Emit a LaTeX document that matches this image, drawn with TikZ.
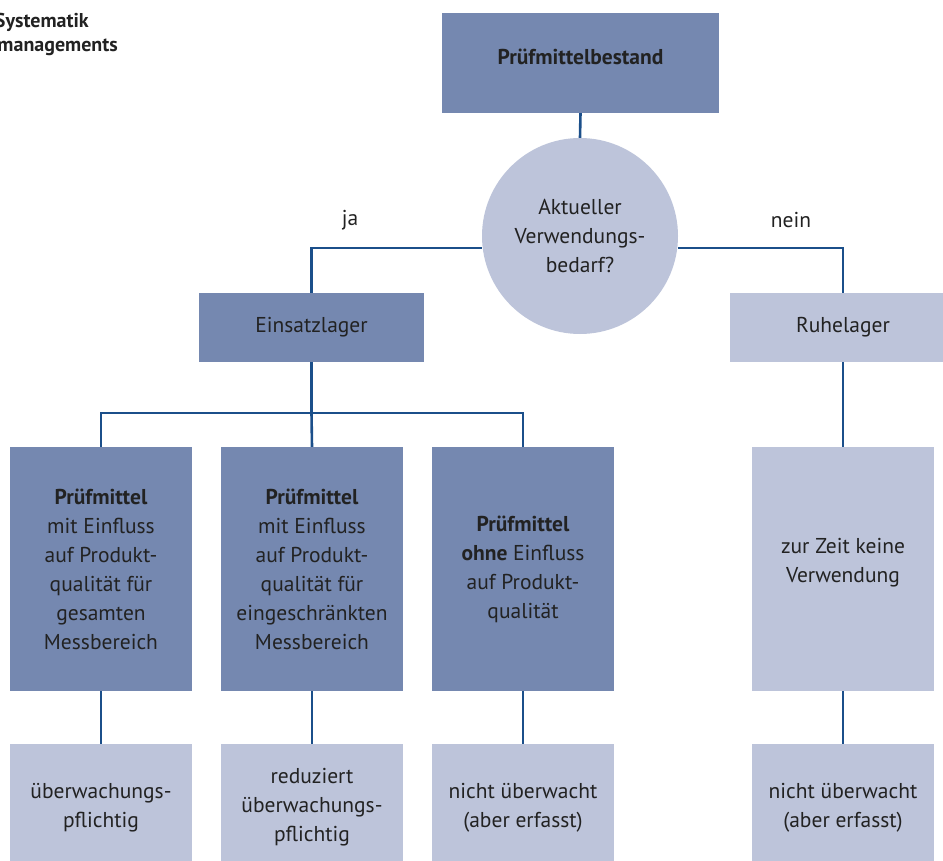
\documentclass[tikz,border=0pt]{standalone}
\usepackage{fontspec}
\setmainfont{PT Sans}
\definecolor{darkbox}{HTML}{7588B0}
\definecolor{lightbox}{HTML}{BDC4DA}
\definecolor{linecol}{HTML}{1B4F8A}
\definecolor{txt}{HTML}{222222}
\tikzset{
  boxbase/.style={rectangle, inner sep=0pt, align=center, text=txt,
    font=\fontsize{21.5}{29}\selectfont},
  darkb/.style={boxbase, fill=darkbox},
  lightb/.style={boxbase, fill=lightbox},
  conn/.style={draw=linecol, line width=2.6pt},
  lbl/.style={text=txt, font=\fontsize{21.5}{29}\selectfont, inner sep=0pt},
  captxt/.style={anchor=east, text=txt, inner sep=0pt, font=\fontsize{20}{25}\bfseries\selectfont},
}
\begin{document}
\begin{tikzpicture}[x=1pt,y=-1pt]
\useasboundingbox (0,0) rectangle (943,861);
\clip (0,0) rectangle (943,861);
% caption fragment
\node[captxt] (cap1) at (89,22) {Systematik};
\node[captxt] (cap2) at (118,47) {managements};
% nodes
\node[darkb, minimum width=277pt, minimum height=100pt] (top) at (580.5,63) {};
\node[lbl, font=\fontsize{21.5}{29}\bfseries\selectfont] (toptxt) at (580.5,57) {Prüfmittelbestand};
\node[circle, fill=lightbox, minimum size=196pt, inner sep=0pt, align=center, text=txt, font=\fontsize{21.5}{29}\selectfont] (q) at (580,236) {Aktueller\\Verwendungs-\\bedarf?};
\node[darkb, minimum width=225pt, minimum height=69pt] (ein) at (311.5,327.5) {Einsatzlager};
\node[lightb, minimum width=226pt, minimum height=69pt] (ruhe) at (843,327.5) {Ruhelager};
\node[darkb, minimum width=182pt, minimum height=244pt] (p1) at (101,569) {\textbf{Prüfmittel}\\mit Einfluss\\auf Produkt-\\qualität für\\gesamten\\Messbereich};
\node[darkb, minimum width=182pt, minimum height=244pt] (p2) at (312,569) {\textbf{Prüfmittel}\\mit Einfluss\\auf Produkt-\\qualität für\\eingeschränkten\\Messbereich};
\node[darkb, minimum width=182pt, minimum height=244pt] (p3) at (523,569) {\textbf{Prüfmittel}\\\textbf{ohne} Einfluss\\auf Produkt-\\qualität};
\node[lightb, minimum width=182pt, minimum height=244pt] (p4) at (843,569) {};
\node[lbl, align=center] (p4txt) at (843,563) {zur Zeit keine\\Verwendung};
\node[lightb, minimum width=182pt, minimum height=127pt] (s1) at (101,807.5) {überwachungs-\\pflichtig};
\node[lightb, minimum width=182pt, minimum height=127pt] (s2) at (312,807.5) {reduziert\\überwachungs-\\pflichtig};
\node[lightb, minimum width=182pt, minimum height=127pt] (s3) at (523,807.5) {nicht überwacht\\(aber erfasst)};
\node[lightb, minimum width=182pt, minimum height=127pt] (s4) at (843,807.5) {nicht überwacht\\(aber erfasst)};
% labels
\node[lbl] (ja) at (350,220) {ja};
\node[lbl] (nein) at (791,220) {nein};
% connectors
\coordinate (bar) at (0,413);
\draw[conn] (top.south) -- (q.north);
\draw[conn] ([yshift=-12pt]q.west) -| (ein.north);
\draw[conn] ([yshift=-12pt]q.east) -| (ruhe.north);
\draw[conn] (ein.south) -- (ein.south |- bar);
\draw[conn] (p1.north) |- (p3.north |- bar) -- (p3.north);
\draw[conn] (ein.south |- bar) -- (p2.north);
\draw[conn] (ruhe.south) -- (p4.north);
\draw[conn] (p1.south) -- (s1.north);
\draw[conn] (p2.south) -- (s2.north);
\draw[conn] (p3.south) -- (s3.north);
\draw[conn] (p4.south) -- (s4.north);
\end{tikzpicture}
\end{document}
